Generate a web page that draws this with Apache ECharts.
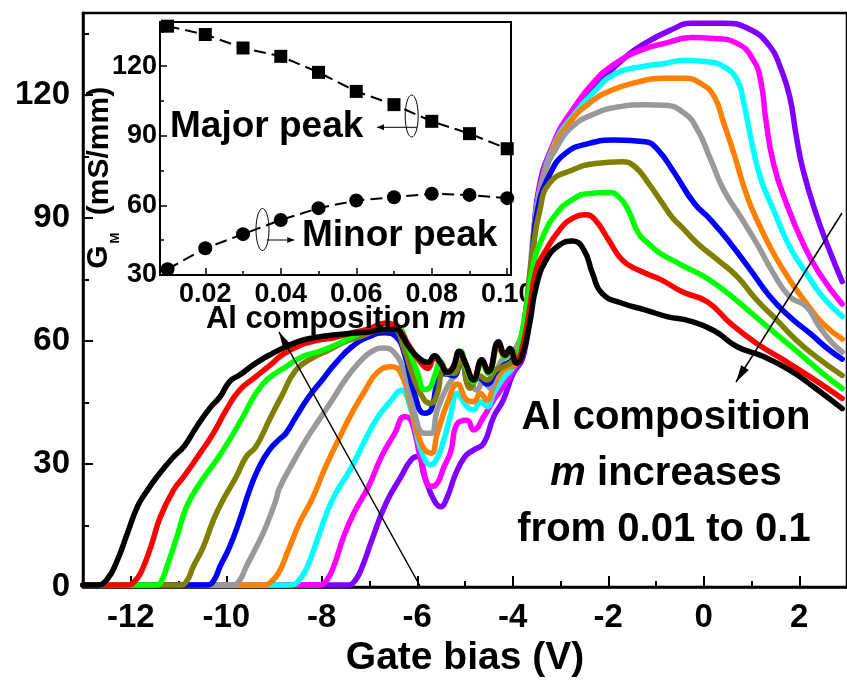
<!DOCTYPE html>
<html>
<head>
<meta charset="utf-8">
<script src="https://cdn.jsdelivr.net/npm/echarts@6/dist/echarts.min.js"></script>
<style>
  html, body { margin: 0; padding: 0; background: #fff; }
  #chart { width: 847px; height: 683px; }
</style>
</head>
<body>
<div id="chart"></div>
<script>
// Transconductance G_M versus gate bias, one curve per Al composition m.
// Each curve is a list of [gate bias (V), G_M (mS/mm)] pairs.
const compositions = ['0.01', '0.02', '0.03', '0.04', '0.05', '0.06', '0.07', '0.08', '0.09', '0.10'];

const gm_m001 = [[-13,0.5],[-7.45,0.5],[-7.3,1.6],[-7.15,5],[-6.95,11.5],[-6.65,20.5],[-6.34,26.9],[-6.13,31],[-5.99,31.8],[-5.85,27],[-5.64,21],[-5.51,19.6],[-5.37,22],[-5.2,27.5],[-5.0,31.8],[-4.82,33.4],[-4.61,35],[-4.4,41.5],[-4.2,45.6],[-3.99,52.1],[-3.78,56.2],[-3.65,68],[-3.55,88],[-3.44,98],[-3.23,105.8],[-2.95,111.5],[-2.61,117.1],[-2.2,122.8],[-1.71,128.5],[-1.23,132.6],[-0.68,135.9],[-0.26,137.5],[0.42,137.5],[0.98,135.9],[1.39,131.8],[1.6,126.9],[1.8,119.6],[1.94,109.8],[2.08,101.7],[2.35,91.1],[2.63,82.2],[2.9,74.5]];
const gm_m002 = [[-13,0.5],[-8.05,0.5],[-7.9,1.6],[-7.75,5],[-7.55,12],[-7.33,18],[-7.02,24.5],[-6.75,31.8],[-6.47,37.5],[-6.27,41.5],[-6.13,40.7],[-5.92,31],[-5.71,24.5],[-5.58,25.3],[-5.44,29.3],[-5.3,33],[-5.16,39.9],[-4.96,40.7],[-4.82,38.3],[-4.61,41.5],[-4.4,45.6],[-4.2,48.9],[-3.99,52.9],[-3.78,57],[-3.65,70],[-3.55,85],[-3.44,97],[-3.09,109.8],[-2.75,116.3],[-2.33,122.8],[-1.85,127.7],[-1.3,131],[-0.82,132.6],[-0.26,134],[0.22,133.8],[0.7,132.6],[1.04,128.5],[1.2,123],[1.3,114],[1.46,103.3],[1.73,93.6],[2.08,83.8],[2.42,76.5],[2.9,69]];
const gm_m003 = [[-13,0.5],[-8.65,0.5],[-8.48,1.6],[-8.3,5],[-8.05,13],[-7.78,21.2],[-7.37,29.3],[-7.09,35.9],[-6.82,41.5],[-6.54,45.6],[-6.34,48],[-6.13,43.2],[-5.92,33.4],[-5.71,29.8],[-5.58,31.5],[-5.44,36],[-5.3,42],[-5.16,47.2],[-4.96,44],[-4.82,43.2],[-4.68,45.2],[-4.54,44],[-4.4,47.2],[-4.2,50.9],[-3.99,53.7],[-3.78,59.4],[-3.65,72],[-3.55,86],[-3.44,96],[-3.09,109],[-2.75,114.7],[-2.33,120.4],[-1.85,125.2],[-1.3,126.9],[-0.82,127.7],[-0.4,128.5],[0.08,128.1],[0.42,126.9],[0.7,123.7],[0.84,118],[0.98,109.8],[1.18,100.1],[1.46,92],[1.8,83],[2.15,76.5],[2.49,70.8],[2.9,66]];
const gm_m004 = [[-13,0.5],[-9.2,0.5],[-9.05,1.4],[-8.9,3.5],[-8.7,9],[-8.45,16],[-8.2,21.5],[-7.92,29.3],[-7.65,35.9],[-7.37,42.4],[-7.09,48],[-6.82,52.5],[-6.54,53.7],[-6.34,52.1],[-6.13,44],[-5.92,35],[-5.71,32.6],[-5.58,37.5],[-5.37,44.8],[-5.16,49.5],[-4.96,45.6],[-4.82,45.2],[-4.68,47.2],[-4.54,45.6],[-4.4,48.9],[-4.2,52.9],[-3.92,54.6],[-3.78,60.2],[-3.65,74],[-3.55,87],[-3.44,95],[-3.16,106.6],[-2.82,113.1],[-2.4,118],[-1.92,121.2],[-1.37,123.2],[-0.89,124.1],[-0.4,124.1],[-0.06,122.8],[0.22,119.6],[0.42,113.1],[0.63,105.8],[0.91,95.2],[1.18,87.9],[1.46,81.4],[1.8,74.9],[2.15,69.2],[2.49,64.3],[2.9,60.5]];
const gm_m005 = [[-13,0.5],[-9.85,0.5],[-9.72,1.6],[-9.58,5],[-9.38,9.5],[-9.17,14.7],[-8.96,21.2],[-8.89,24],[-8.61,30.2],[-8.33,35.9],[-8.06,40.7],[-7.78,45.6],[-7.51,50.5],[-7.23,54.6],[-6.96,57.4],[-6.7,58.3],[-6.47,57],[-6.27,52.1],[-6.06,42.4],[-5.85,37.5],[-5.71,37.5],[-5.58,43.2],[-5.37,48.9],[-5.16,52.5],[-5.06,56],[-4.89,50.5],[-4.75,48],[-4.61,50.5],[-4.47,48.5],[-4.33,52.9],[-4.2,55.8],[-4.06,56.6],[-3.92,58.6],[-3.78,63.5],[-3.65,76],[-3.55,88],[-3.37,100],[-3.09,107],[-2.75,112.3],[-2.27,115.5],[-1.78,117.1],[-1.23,117.6],[-0.82,117.5],[-0.4,115.5],[-0.13,111.5],[0.15,104.1],[0.42,96.8],[0.77,90.3],[1.11,83.8],[1.46,76.5],[1.8,70.8],[2.15,68.4],[2.42,63.5],[2.7,59.4],[2.9,57.3]];
const gm_m006 = [[-13,0.5],[-10.4,0.5],[-10.26,1.6],[-10.13,5],[-9.93,9.8],[-9.72,16.3],[-9.51,23.7],[-9.31,29.3],[-9.1,33.4],[-8.89,36],[-8.75,37.5],[-8.54,41.5],[-8.27,46.4],[-7.99,50.5],[-7.71,54.6],[-7.37,58.6],[-7.02,61],[-6.68,62],[-6.44,61],[-6.27,57],[-6.06,47.2],[-5.85,42.4],[-5.71,43.2],[-5.58,49.7],[-5.44,52],[-5.23,51.5],[-5.09,56.5],[-4.89,49],[-4.7,51],[-4.54,49.5],[-4.35,52.5],[-4.2,54],[-4.0,55.5],[-3.85,58],[-3.72,67],[-3.6,80],[-3.48,92],[-3.23,100.5],[-2.89,105.8],[-2.4,108.2],[-1.85,109],[-1.23,108.6],[-0.96,106.6],[-0.61,100.9],[-0.2,93.6],[0.15,89.5],[0.56,83.8],[0.98,77.3],[1.39,70.8],[1.8,65.9],[2.22,61.9],[2.63,57.8],[2.9,55.6]];
const gm_m007 = [[-13,0.5],[-10.95,0.5],[-10.82,1.6],[-10.69,5],[-10.48,9.8],[-10.27,16.3],[-10.07,21.2],[-9.79,26.9],[-9.58,31.8],[-9.38,34.2],[-9.1,40.7],[-8.83,46.8],[-8.54,52.9],[-8.2,55.8],[-7.85,57.8],[-7.51,59.8],[-7.16,61.2],[-6.82,62.6],[-6.5,62.8],[-6.27,57.8],[-6.06,50.5],[-5.85,45.6],[-5.71,44.8],[-5.58,47.2],[-5.44,52.9],[-5.23,52.1],[-5.09,56.5],[-4.89,48.5],[-4.7,51.5],[-4.54,50.5],[-4.35,53],[-4.2,53.7],[-4.0,55],[-3.85,57],[-3.72,68],[-3.58,82],[-3.44,91.5],[-3.23,98.5],[-2.75,101.7],[-2.27,103.3],[-1.71,103.7],[-1.44,102.5],[-1.16,98.5],[-0.89,94],[-0.65,90],[-0.47,87.9],[-0.13,83.8],[0.29,79.8],[0.7,75.7],[1.11,70],[1.53,65.1],[1.94,60.2],[2.35,56.2],[2.9,51.6]];
const gm_m008 = [[-13,0.5],[-11.45,0.5],[-11.35,1.6],[-11.24,5],[-11.03,12.3],[-10.83,19.6],[-10.55,25.3],[-10.2,31],[-9.93,35.9],[-9.65,41.5],[-9.38,47.2],[-9.1,51],[-8.75,53.7],[-8.4,56.2],[-8.06,57.4],[-7.71,59],[-7.37,61],[-7.02,62.7],[-6.65,64.3],[-6.4,63.5],[-6.2,58.6],[-5.99,52.1],[-5.85,48.2],[-5.75,48.5],[-5.64,51.3],[-5.51,55],[-5.37,52.1],[-5.2,54.6],[-5.09,57.5],[-4.99,54],[-4.82,50],[-4.65,54.6],[-4.51,52],[-4.3,58.5],[-4.16,56],[-4.06,57.5],[-3.92,56],[-3.85,59.4],[-3.71,68.4],[-3.58,78.1],[-3.37,85.4],[-3.09,91],[-2.75,94.5],[-2.4,96],[-1.99,96.2],[-1.78,95.2],[-1.58,91.9],[-1.37,86.3],[-1.16,83.8],[-0.89,81.2],[-0.61,79.5],[-0.4,78.1],[0.01,75.7],[0.42,72.4],[0.84,68.4],[1.25,64.3],[1.67,60.2],[2.08,56.2],[2.49,52.1],[2.9,48.4]];
const gm_m009 = [[-13,0.5],[-12.05,0.5],[-11.9,1.6],[-11.77,4],[-11.58,9.8],[-11.38,17.1],[-11.1,23.7],[-10.89,26.9],[-10.55,32.6],[-10.27,37.5],[-10.0,43.2],[-9.72,48],[-9.38,51.3],[-9.03,54.6],[-8.83,56.6],[-8.4,59.2],[-8.06,60.2],[-7.71,60.9],[-7.37,62],[-7.02,62.9],[-6.68,64.3],[-6.44,63.4],[-6.3,61.5],[-6.2,59.4],[-5.92,54.6],[-5.78,53.3],[-5.64,55.8],[-5.5,54.5],[-5.37,52.5],[-5.25,53.5],[-5.12,57.2],[-4.99,54.4],[-4.82,50.8],[-4.65,55],[-4.51,52.8],[-4.3,58.8],[-4.16,56.5],[-4.06,57.8],[-3.92,55.5],[-3.78,59.4],[-3.65,67.6],[-3.51,77.3],[-3.3,82.2],[-3.02,87.1],[-2.75,89.9],[-2.47,90.8],[-2.27,89.5],[-1.99,84.6],[-1.71,79.8],[-1.37,77.3],[-0.89,74.9],[-0.45,72],[0.08,69.5],[0.56,64.3],[1.11,59.4],[1.67,55.4],[2.22,51.3],[2.9,46]];
const gm_m010 = [[-13,0.5],[-12.7,0.5],[-12.5,1.8],[-12.3,6],[-12.07,13.1],[-11.86,19.6],[-11.69,22.9],[-11.45,26.9],[-11.1,31.8],[-10.89,34.2],[-10.62,39.1],[-10.34,43.7],[-10.13,46.4],[-9.93,50.1],[-9.72,51.7],[-9.38,54.6],[-9.03,57],[-8.75,58.6],[-8.4,60.2],[-8.06,61],[-7.71,61.5],[-7.37,61.9],[-7.02,62.2],[-6.68,62.8],[-6.44,62.8],[-6.3,61],[-6.2,59],[-6.0,56.2],[-5.78,54.8],[-5.64,56.4],[-5.5,54.5],[-5.37,52.3],[-5.25,53.5],[-5.12,57.5],[-4.99,54.6],[-4.82,50.5],[-4.65,55.4],[-4.51,52.5],[-4.3,59.8],[-4.16,56.6],[-4.06,58.2],[-3.92,54.6],[-3.8,56.5],[-3.65,64],[-3.51,73.2],[-3.3,79.8],[-3.02,83.4],[-2.75,84.4],[-2.51,82.2],[-2.33,76.5],[-2.13,71.6],[-1.71,69.2],[-1.23,67.6],[-0.75,65.9],[-0.3,64.9],[0.22,62.5],[0.7,58.6],[1.25,56.2],[1.8,52.9],[2.29,48.9],[2.9,43.5]];

const gmCurves = [gm_m001, gm_m002, gm_m003, gm_m004, gm_m005, gm_m006, gm_m007, gm_m008, gm_m009, gm_m010];
const curveColors = ['#8000ff', '#ff00ff', '#00ffff', '#ff8000', '#999999', '#0000ff', '#808000', '#00ff00', '#ff0000', '#000000'];

// Inset: major and minor transconductance peaks against Al composition
const alComposition = [0.01, 0.02, 0.03, 0.04, 0.05, 0.06, 0.07, 0.08, 0.09, 0.10];
const majorPeak = [137.2, 133.6, 127.8, 124.2, 117.3, 109.1, 103.4, 96.2, 90.9, 84.4];
const minorPeak = [32.5, 41.5, 47.6, 53.7, 58.8, 62.1, 63.5, 65.0, 64.5, 63.1];

// Tick positions
const gateTicks = [-12, -10, -8, -6, -4, -2, 0, 2];
const gateMinorTicks = [-11, -9, -7, -5, -3, -1, 1];
const gmTicks = [0, 30, 60, 90, 120];
const gmMinorTicks = [15, 45, 75, 105, 135];
const insetXTicks = [0.02, 0.04, 0.06, 0.08, 0.10];
const insetXMinorTicks = [0.01, 0.03, 0.05, 0.07, 0.09];
const insetYTicks = [30, 60, 90, 120];
const insetYMinorTicks = [45, 75, 105, 135];

const FONT = '"Liberation Sans", Arial, Helvetica, sans-serif';
const chart = echarts.init(document.getElementById('chart'), null, { renderer: 'canvas' });

function axisBase(extra) {
  return Object.assign({
    type: 'value',
    splitLine: { show: false },
    axisLine: { show: true, onZero: false, lineStyle: { color: '#000', width: 2.5 } },
  }, extra);
}

function minorAxis(gridIndex, position, min, max, values, len, width) {
  return {
    type: 'value', gridIndex, position, min, max,
    axisLine: { show: false, onZero: false },
    axisTick: { show: true, inside: true, length: len, customValues: values, lineStyle: { color: '#000', width } },
    axisLabel: { show: false },
    splitLine: { show: false }
  };
}

const mainSeries = gmCurves.map((curve, i) => ({
  name: 'm = ' + compositions[i],
  type: 'line',
  xAxisIndex: 0,
  yAxisIndex: 0,
  data: curve,
  showSymbol: false,
  smooth: 0.5,
  clip: false,
  lineStyle: { color: curveColors[i], width: 5.5, cap: 'round', join: 'round' },
  z: 2 + i
}));

const insetSeries = [
  { data: majorPeak, symbol: 'rect', size: 13 },
  { data: minorPeak, symbol: 'circle', size: 14 }
].map(s => ({
  type: 'line',
  xAxisIndex: 2,
  yAxisIndex: 2,
  data: alComposition.map((m, k) => [m, s.data[k]]),
  symbol: s.symbol,
  symbolSize: s.size,
  itemStyle: { color: '#000' },
  lineStyle: { color: '#000', width: 2, type: [12, 6] },
  z: 20
}));

function arrowHead(tip, from, len, half) {
  const dx = tip[0] - from[0], dy = tip[1] - from[1];
  const L = Math.hypot(dx, dy);
  const ux = dx / L, uy = dy / L;
  const bx = tip[0] - ux * len, by = tip[1] - uy * len;
  return [tip, [bx - uy * half, by + ux * half], [bx + uy * half, by - ux * half]];
}

function arrow(from, tip, width, len, half) {
  return [
    { type: 'line', shape: { x1: from[0], y1: from[1], x2: tip[0], y2: tip[1] }, style: { stroke: '#000', lineWidth: width }, z: 50 },
    { type: 'polygon', shape: { points: arrowHead(tip, from, len, half) }, style: { fill: '#000' }, z: 50 }
  ];
}

function label(x, y, text, size, align, extra) {
  return Object.assign({
    type: 'text', x, y, z: 60,
    style: Object.assign({
      text, fill: '#000', fontSize: size, fontWeight: 'bold', fontFamily: FONT,
      align: align, verticalAlign: 'middle'
    }, extra || {})
  });
}

const graphics = [
  // annotation in the main panel
  label(666, 418, 'Al composition', 40, 'center'),
  label(666, 474, '{i|m}{n| increases}', 40, 'center', {
    rich: {
      i: { fontSize: 40, fontWeight: 'bold', fontStyle: 'italic', fontFamily: FONT, fill: '#000' },
      n: { fontSize: 40, fontWeight: 'bold', fontFamily: FONT, fill: '#000' }
    }
  }),
  label(664, 530, 'from 0.01 to 0.1', 40, 'center'),
  ...arrow([842, 213], [736, 382], 1.5, 17, 4.5),
  ...arrow([420, 586], [279, 332], 1.5, 17, 4.5),

  // inset labels
  label(170, 127, 'Major peak', 37, 'left'),
  label(302, 236, 'Minor peak', 37, 'left'),
  { type: 'ellipse', shape: { cx: 411.7, cy: 116, rx: 6.5, ry: 21 }, style: { stroke: '#000', lineWidth: 1, fill: null }, z: 55 },
  { type: 'ellipse', shape: { cx: 262.5, cy: 229.5, rx: 6.5, ry: 21 }, style: { stroke: '#000', lineWidth: 1, fill: null }, z: 55 },
  ...arrow([417, 127.3], [377, 127.3], 1, 7, 3),
  ...arrow([266.7, 240], [294.3, 240], 1, 7, 3),
  label(336, 319, '{n|Al composition }{i|m}', 31, 'center', {
    rich: {
      n: { fontSize: 31, fontWeight: 'bold', fontFamily: FONT, fill: '#000' },
      i: { fontSize: 31, fontWeight: 'bold', fontStyle: 'italic', fontFamily: FONT, fill: '#000' }
    }
  }),
  // inset y-axis title G_M (mS/mm), written bottom-to-top
  Object.assign(label(99, 257, 'G', 30, 'center'), { rotation: Math.PI / 2 }),
  Object.assign(label(115, 238, 'M', 13, 'center'), { rotation: Math.PI / 2 }),
  Object.assign(label(100, 151, '(mS/mm)', 30, 'center'), { rotation: Math.PI / 2 })
];

const option = {
  backgroundColor: '#fff',
  animation: false,
  textStyle: { fontFamily: FONT },
  grid: [
    { left: 83, top: 13, right: -9, bottom: 95, show: true, borderColor: '#000', borderWidth: 2.5, backgroundColor: 'transparent', containLabel: false },
    { left: 160, top: 22, width: 351, height: 253, show: true, borderColor: '#000', borderWidth: 2, backgroundColor: 'transparent', containLabel: false }
  ],
  xAxis: [
    axisBase({
      gridIndex: 0, position: 'bottom', min: -13, max: 3,
      axisTick: { show: true, inside: true, length: 11, customValues: gateTicks, lineStyle: { color: '#000', width: 2 } },
      axisLabel: { customValues: gateTicks, fontSize: 33, fontWeight: 'bold', color: '#000', margin: 14, fontFamily: FONT },
      name: 'Gate bias (V)', nameLocation: 'middle', nameGap: 52,
      nameTextStyle: { fontSize: 39, fontWeight: 'bold', color: '#000', fontFamily: FONT }
    }),
    minorAxis(0, 'bottom', -13, 3, gateMinorTicks, 6, 2),
    axisBase({
      gridIndex: 1, position: 'bottom', min: 0.008, max: 0.101,
      axisLine: { show: true, onZero: false, lineStyle: { color: '#000', width: 2 } },
      axisTick: { show: true, inside: true, length: 7, customValues: insetXTicks, lineStyle: { color: '#000', width: 1.5 } },
      axisLabel: { customValues: insetXTicks, formatter: v => v.toFixed(2), fontSize: 27, fontWeight: 'bold', color: '#000', margin: 6, fontFamily: FONT }
    }),
    minorAxis(1, 'bottom', 0.008, 0.101, insetXMinorTicks, 4, 1.5)
  ],
  yAxis: [
    axisBase({
      gridIndex: 0, position: 'left', min: 0, max: 140,
      axisTick: { show: true, inside: true, length: 10, customValues: gmTicks, lineStyle: { color: '#000', width: 2 } },
      axisLabel: { customValues: gmTicks, fontSize: 33, fontWeight: 'bold', color: '#000', margin: 13, fontFamily: FONT }
    }),
    minorAxis(0, 'left', 0, 140, gmMinorTicks, 6, 2),
    axisBase({
      gridIndex: 1, position: 'left', min: 30, max: 139,
      axisLine: { show: true, onZero: false, lineStyle: { color: '#000', width: 2 } },
      axisTick: { show: true, inside: true, length: 7, customValues: insetYTicks, lineStyle: { color: '#000', width: 1.5 } },
      axisLabel: { customValues: insetYTicks, fontSize: 27, fontWeight: 'bold', color: '#000', margin: 3, fontFamily: FONT }
    }),
    minorAxis(1, 'left', 30, 139, insetYMinorTicks, 4, 1.5)
  ],
  series: mainSeries.concat(insetSeries),
  graphic: graphics
};

chart.setOption(option);
</script>
</body>
</html>
